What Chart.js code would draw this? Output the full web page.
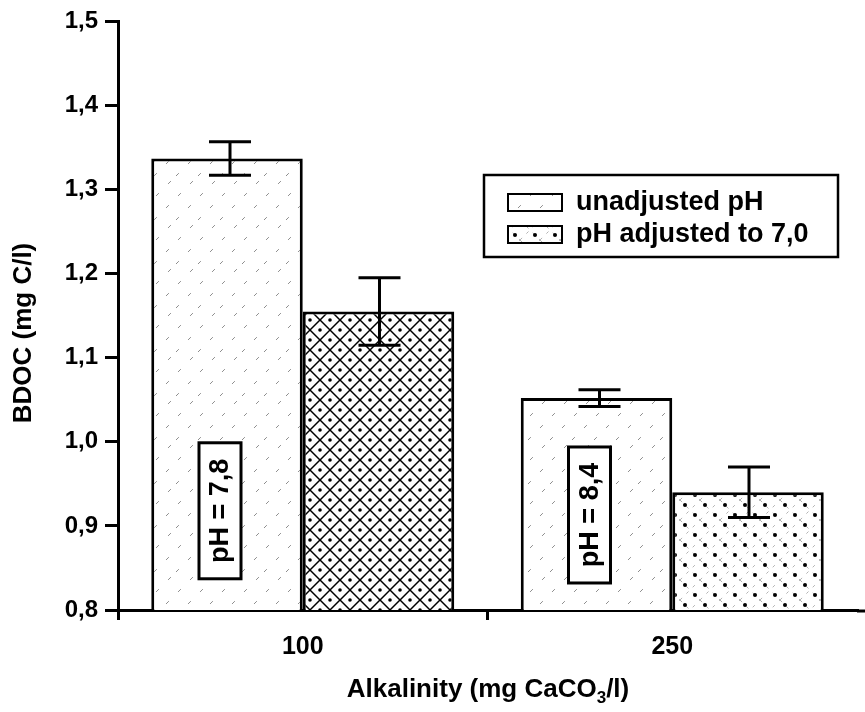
<!DOCTYPE html>
<html>
<head>
<meta charset="utf-8">
<script src="https://cdn.jsdelivr.net/npm/chart.js@4"></script>
<style>
  body { margin: 0; background: #fff; }
  #wrap { width: 865px; height: 712px; }
</style>
</head>
<body>
<div id="wrap"><canvas id="bdoc" width="865" height="712"></canvas></div>
<script>
// data
const categories = ["100", "250"];
const seriesNames = ["unadjusted pH", "pH adjusted to 7,0"];
const unadjusted = [1.337, 1.052];
const unadjustedErr = [0.02, 0.01];
const adjusted = [1.155, 0.94];
const adjustedErr = [0.04, 0.03];
const phLabels = ["pH = 7,8", "pH = 8,4"];
const phLabelAt = [0.918, 0.913];
const yTicks = [0.8, 0.9, 1.0, 1.1, 1.2, 1.3, 1.4, 1.5];

const FONT = "'Liberation Sans', Arial, sans-serif";

// fill patterns like the scanned original
function tile(size, draw) {
  const c = document.createElement("canvas");
  c.width = size; c.height = size;
  const g = c.getContext("2d");
  g.fillStyle = "#fff";
  g.fillRect(0, 0, size, size);
  draw(g, size);
  return g.createPattern(c, "repeat");
}

const hatch = tile(44, (g, s) => {
  g.strokeStyle = "rgba(0,0,0,0.45)";
  g.lineWidth = 1;
  g.setLineDash([4, 13]);
  for (let k = -s; k <= 2 * s; k += 22) {
    g.beginPath(); g.moveTo(k, s); g.lineTo(k + s, 0); g.stroke();
  }
});

const cross = tile(20, (g, s) => {
  g.strokeStyle = "#000";
  g.lineWidth = 1.5;
  for (let k = -s; k <= 2 * s; k += s) {
    g.beginPath(); g.moveTo(k, s); g.lineTo(k + s, 0); g.stroke();
    g.beginPath(); g.moveTo(k, 0); g.lineTo(k + s, s); g.stroke();
  }
  g.fillStyle = "#000";
  g.beginPath(); g.arc(s / 2, 0, 1.8, 0, Math.PI * 2); g.fill();
  g.beginPath(); g.arc(s / 2, s, 1.8, 0, Math.PI * 2); g.fill();
  g.beginPath(); g.arc(0, s / 2, 1.8, 0, Math.PI * 2); g.fill();
  g.beginPath(); g.arc(s, s / 2, 1.8, 0, Math.PI * 2); g.fill();
});

const dots = tile(20, (g, s) => {
  g.strokeStyle = "rgba(0,0,0,0.3)";
  g.lineWidth = 1;
  g.setLineDash([3, 6]);
  for (let k = -s; k <= 2 * s; k += s) {
    g.beginPath(); g.moveTo(k, s); g.lineTo(k + s, 0); g.stroke();
    g.beginPath(); g.moveTo(k, 0); g.lineTo(k + s, s); g.stroke();
  }
  g.fillStyle = "#000";
  g.beginPath(); g.arc(5, 5, 2, 0, Math.PI * 2); g.fill();
  g.beginPath(); g.arc(15, 15, 2, 0, Math.PI * 2); g.fill();
});

const fmt = (v) => v.toFixed(1).replace(".", ",");

const extras = {
  id: "extras",
  afterDatasetsDraw(chart) {
    const { ctx, scales: { x, y }, chartArea } = chart;
    const errs = [unadjustedErr, adjustedErr];

    ctx.save();
    ctx.strokeStyle = "#000";
    ctx.lineWidth = 3;
    // extend x axis line to the edge
    ctx.beginPath();
    ctx.moveTo(chartArea.right, chartArea.bottom + 1);
    ctx.lineTo(865, chartArea.bottom + 1);
    ctx.stroke();

    // error bars
    errs.forEach((errArr, di) => {
      const meta = chart.getDatasetMeta(di);
      meta.data.forEach((bar, i) => {
        const v = chart.data.datasets[di].data[i];
        const yt = y.getPixelForValue(v + errArr[i]);
        const yb = y.getPixelForValue(v - errArr[i]);
        const cx = bar.x + (di === 0 ? 3 : 1);
        ctx.beginPath();
        ctx.moveTo(cx, yt); ctx.lineTo(cx, yb);
        ctx.moveTo(cx - 21, yt); ctx.lineTo(cx + 21, yt);
        ctx.moveTo(cx - 21, yb); ctx.lineTo(cx + 21, yb);
        ctx.stroke();
      });
    });

    // pH boxes on the unadjusted bars
    chart.getDatasetMeta(0).data.forEach((bar, i) => {
      ctx.save();
      ctx.translate(bar.x - 7, y.getPixelForValue(phLabelAt[i]));
      ctx.rotate(-Math.PI / 2);
      ctx.fillStyle = "#fff";
      ctx.fillRect(-68, -21, 136, 42);
      ctx.strokeRect(-68, -21, 136, 42);
      ctx.fillStyle = "#000";
      ctx.font = "bold 27px " + FONT;
      ctx.textAlign = "center";
      ctx.textBaseline = "middle";
      ctx.fillText(phLabels[i], 0, 1);
      ctx.restore();
    });

    // legend
    ctx.lineWidth = 2.5;
    ctx.fillStyle = "#fff";
    ctx.fillRect(484, 175, 354, 82);
    ctx.strokeRect(484, 175, 354, 82);
    const swatches = [hatch, dots];
    const rowY = [194, 226];
    seriesNames.forEach((name, i) => {
      ctx.fillStyle = swatches[i];
      ctx.fillRect(508, rowY[i], 54, 17);
      ctx.lineWidth = 2;
      ctx.strokeRect(508, rowY[i], 54, 17);
      ctx.fillStyle = "#000";
      ctx.font = "bold 27px " + FONT;
      ctx.textAlign = "left";
      ctx.textBaseline = "middle";
      ctx.fillText(name, 576, rowY[i] + 9);
    });

    // axis titles
    ctx.font = "bold 26px " + FONT;
    ctx.fillStyle = "#000";
    ctx.textBaseline = "middle";
    ctx.save();
    ctx.translate(24, 333);
    ctx.rotate(-Math.PI / 2);
    ctx.textAlign = "center";
    ctx.fillText("BDOC (mg C/l)", 0, 0);
    ctx.restore();

    const a = "Alkalinity (mg CaCO", b = "3", c = "/l)";
    const big = "bold 26px " + FONT, small = "bold 17px " + FONT;
    const wa = ctx.measureText(a).width, wc = ctx.measureText(c).width;
    ctx.font = small;
    const wb = ctx.measureText(b).width;
    let tx = 488 - (wa + wb + wc) / 2;
    const ty = 690;
    ctx.textAlign = "left";
    ctx.font = big;
    ctx.fillText(a, tx, ty);
    ctx.font = small;
    ctx.fillText(b, tx + wa, ty + 8);
    ctx.font = big;
    ctx.fillText(c, tx + wa + wb, ty);
    ctx.restore();
  }
};

new Chart(document.getElementById("bdoc"), {
  type: "bar",
  data: {
    labels: categories,
    datasets: [
      {
        label: seriesNames[0],
        data: unadjusted,
        backgroundColor: [hatch, hatch],
        borderColor: "#000",
        borderWidth: 3,
      },
      {
        label: seriesNames[1],
        data: adjusted,
        backgroundColor: [cross, dots],
        borderColor: "#000",
        borderWidth: 3,
      },
    ],
  },
  options: {
    responsive: false,
    animation: false,
    layout: { padding: { top: 17, right: 8, left: 0, bottom: 0 } },
    datasets: { bar: { categoryPercentage: 0.82, barPercentage: 1 } },
    plugins: { legend: { display: false }, tooltip: { enabled: false } },
    scales: {
      x: {
        offset: true,
        grid: {
          offset: true,
          drawOnChartArea: false,
          tickLength: 10,
          tickColor: (c) => (c.type === "tick" ? "#000" : "rgba(0,0,0,0)"),
          lineWidth: 3,
        },
        border: { color: "#000", width: 3 },
        ticks: { color: "#000", padding: 12, font: { family: FONT, size: 25, weight: "bold" } },
        afterFit: (s) => { s.height = 102; },
      },
      y: {
        min: 0.8,
        max: 1.5,
        afterBuildTicks: (s) => { s.ticks = yTicks.map((v) => ({ value: v })); },
        grid: { drawOnChartArea: false, tickLength: 13, tickColor: "#000", lineWidth: 3 },
        border: { color: "#000", width: 3 },
        ticks: { color: "#000", padding: 7, font: { family: FONT, size: 24, weight: "bold" }, callback: (v) => fmt(v) },
        afterFit: (s) => { s.width = 118; },
      },
    },
  },
  plugins: [extras],
});
</script>
</body>
</html>
